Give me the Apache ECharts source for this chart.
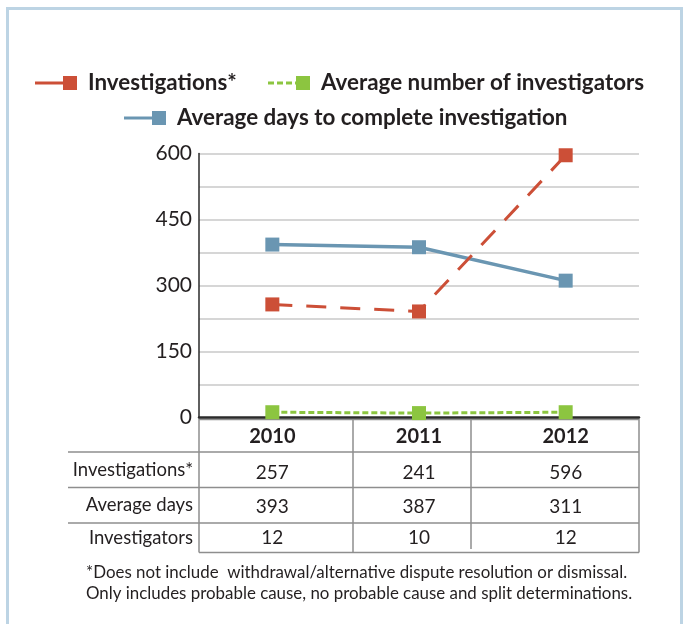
<!DOCTYPE html>
<html>
<head>
<meta charset="utf-8">
<script src="https://cdn.jsdelivr.net/npm/echarts@6/dist/echarts.min.js"></script>
<style>
html,body{margin:0;padding:0;background:#fff;}
#c{width:686px;height:624px;}
</style>
</head>
<body>
<div id="c"></div>
<script>
// ---- data ----
const years = ['2010', '2011', '2012'];
const investigations = [257, 241, 596];
const avgDays = [393, 387, 311];
const investigators = [12, 10, 12];
const seriesNames = ['Investigations*', 'Average number of investigators', 'Average days to complete investigation'];
const rowLabels = ['Investigations*', 'Average days', 'Investigators'];
const yTickLabels = [0, 150, 300, 450, 600];
const footnote = ['*Does not include  withdrawal/alternative dispute resolution or dismissal.',
                  'Only includes probable cause, no probable cause and split determinations.'];

const RED = '#cc4f37', GREEN = '#8cc540', BLUE = '#6a96b2';
const FONT = 'Lato';
const TXT = '#231f20';
const TBL = '#8e8e8e';

const chart = echarts.init(document.getElementById('c'), null, {renderer: 'canvas'});

function hline(x1, x2, y) {
  return {type: 'line', shape: {x1, y1: y, x2, y2: y}, style: {stroke: TBL, lineWidth: 1.5}, silent: true};
}
function vline(x, y1, y2) {
  return {type: 'line', shape: {x1: x, y1, x2: x, y2}, style: {stroke: TBL, lineWidth: 1.5}, silent: true};
}
function legendItem(x, y, color, dash, text) {
  return [
    {type: 'line', shape: {x1: x, y1: y, x2: x + 28, y2: y}, style: {stroke: color, lineWidth: 3, lineDash: dash}, silent: true},
    {type: 'rect', shape: {x: x + 28, y: y - 7, width: 14, height: 14}, style: {fill: color}, silent: true},
    {type: 'text', x: x + 53, y: y, style: {text: text, fill: TXT, font: 'bold 22.4px ' + FONT, textVerticalAlign: 'middle'}, silent: true}
  ];
}

const graphics = [
  {type: 'rect', shape: {x: 7.5, y: 8.5, width: 674, height: 640}, style: {fill: 'none', stroke: '#bdd4e4', lineWidth: 3}, silent: true},
  ...legendItem(35, 83, RED, null, seriesNames[0]),
  ...legendItem(268, 83, GREEN, [6, 3], seriesNames[1]),
  ...legendItem(124, 118, BLUE, null, seriesNames[2]),
  // table lines
  hline(199, 639, 419.5),
  hline(68, 639, 452),
  hline(68, 639, 487.5),
  hline(68, 639, 523),
  hline(199, 639, 552.5),
  vline(199, 419, 552.5),
  vline(353, 419, 552.5),
  vline(471, 419, 549),
  vline(639, 419, 552.5),
  // row labels
  {type: 'text', x: 193, y: 470, style: {text: rowLabels[0], fill: TXT, font: '18.5px ' + FONT, textAlign: 'right', textVerticalAlign: 'middle'}, silent: true},
  {type: 'text', x: 193, y: 505, style: {text: rowLabels[1], fill: TXT, font: '18.5px ' + FONT, textAlign: 'right', textVerticalAlign: 'middle'}, silent: true},
  {type: 'text', x: 193, y: 538, style: {text: rowLabels[2], fill: TXT, font: '18.5px ' + FONT, textAlign: 'right', textVerticalAlign: 'middle'}, silent: true},
  // footnote
  {type: 'text', x: 86, y: 573, style: {text: footnote[0], fill: TXT, font: '16.9px ' + FONT, textVerticalAlign: 'middle'}, silent: true},
  {type: 'text', x: 86, y: 594, style: {text: footnote[1], fill: TXT, font: '16.9px ' + FONT, textVerticalAlign: 'middle'}, silent: true}
];

const option = {
  backgroundColor: '#fff',
  animation: false,
  textStyle: {fontFamily: FONT},
  grid: {left: 199, right: 47, top: 153.5, height: 264, containLabel: false},
  xAxis: {
    type: 'category',
    data: years,
    boundaryGap: true,
    axisLine: {show: true, lineStyle: {color: '#2a2a2a', width: 2.5}},
    axisTick: {show: false},
    splitLine: {show: false},
    axisLabel: {
      interval: 0,
      margin: 2,
      color: TXT,
      formatter: function (v, i) {
        return '{h|' + v + '}\n{a|' + investigations[i] + '}\n{b|' + avgDays[i] + '}\n{c|' + investigators[i] + '}';
      },
      rich: {
        h: {fontFamily: FONT, fontWeight: 'bold', fontSize: 20, lineHeight: 34, color: TXT},
        a: {fontFamily: FONT, fontSize: 19, lineHeight: 38, color: TXT},
        b: {fontFamily: FONT, fontSize: 19, lineHeight: 30, color: TXT},
        c: {fontFamily: FONT, fontSize: 19, lineHeight: 32, color: TXT}
      }
    }
  },
  yAxis: {
    type: 'value',
    min: 0, max: 600, interval: 75,
    axisLine: {show: true, lineStyle: {color: '#2a2a2a', width: 1.5}},
    axisTick: {show: false},
    splitLine: {show: true, lineStyle: {color: '#c8c8c8', width: 1.5}},
    axisLabel: {
      margin: 7,
      color: TXT,
      fontFamily: FONT,
      fontSize: 21,
      formatter: function (v) { return yTickLabels.indexOf(v) >= 0 ? String(v) : ''; }
    }
  },
  series: [
    {
      name: seriesNames[0], type: 'line', data: investigations,
      symbol: 'rect', symbolSize: 14, z: 3,
      itemStyle: {color: RED},
      lineStyle: {color: RED, width: 3, type: [20, 14]}
    },
    {
      name: seriesNames[1], type: 'line', data: investigators,
      symbol: 'rect', symbolSize: 14, z: 4,
      itemStyle: {color: GREEN},
      lineStyle: {color: GREEN, width: 3, type: [6, 3]}
    },
    {
      name: seriesNames[2], type: 'line', data: avgDays,
      symbol: 'rect', symbolSize: 14, z: 2,
      itemStyle: {color: BLUE},
      lineStyle: {color: BLUE, width: 3.5, type: 'solid'}
    }
  ],
  graphic: graphics
};

chart.setOption(option);
</script>
</body>
</html>
